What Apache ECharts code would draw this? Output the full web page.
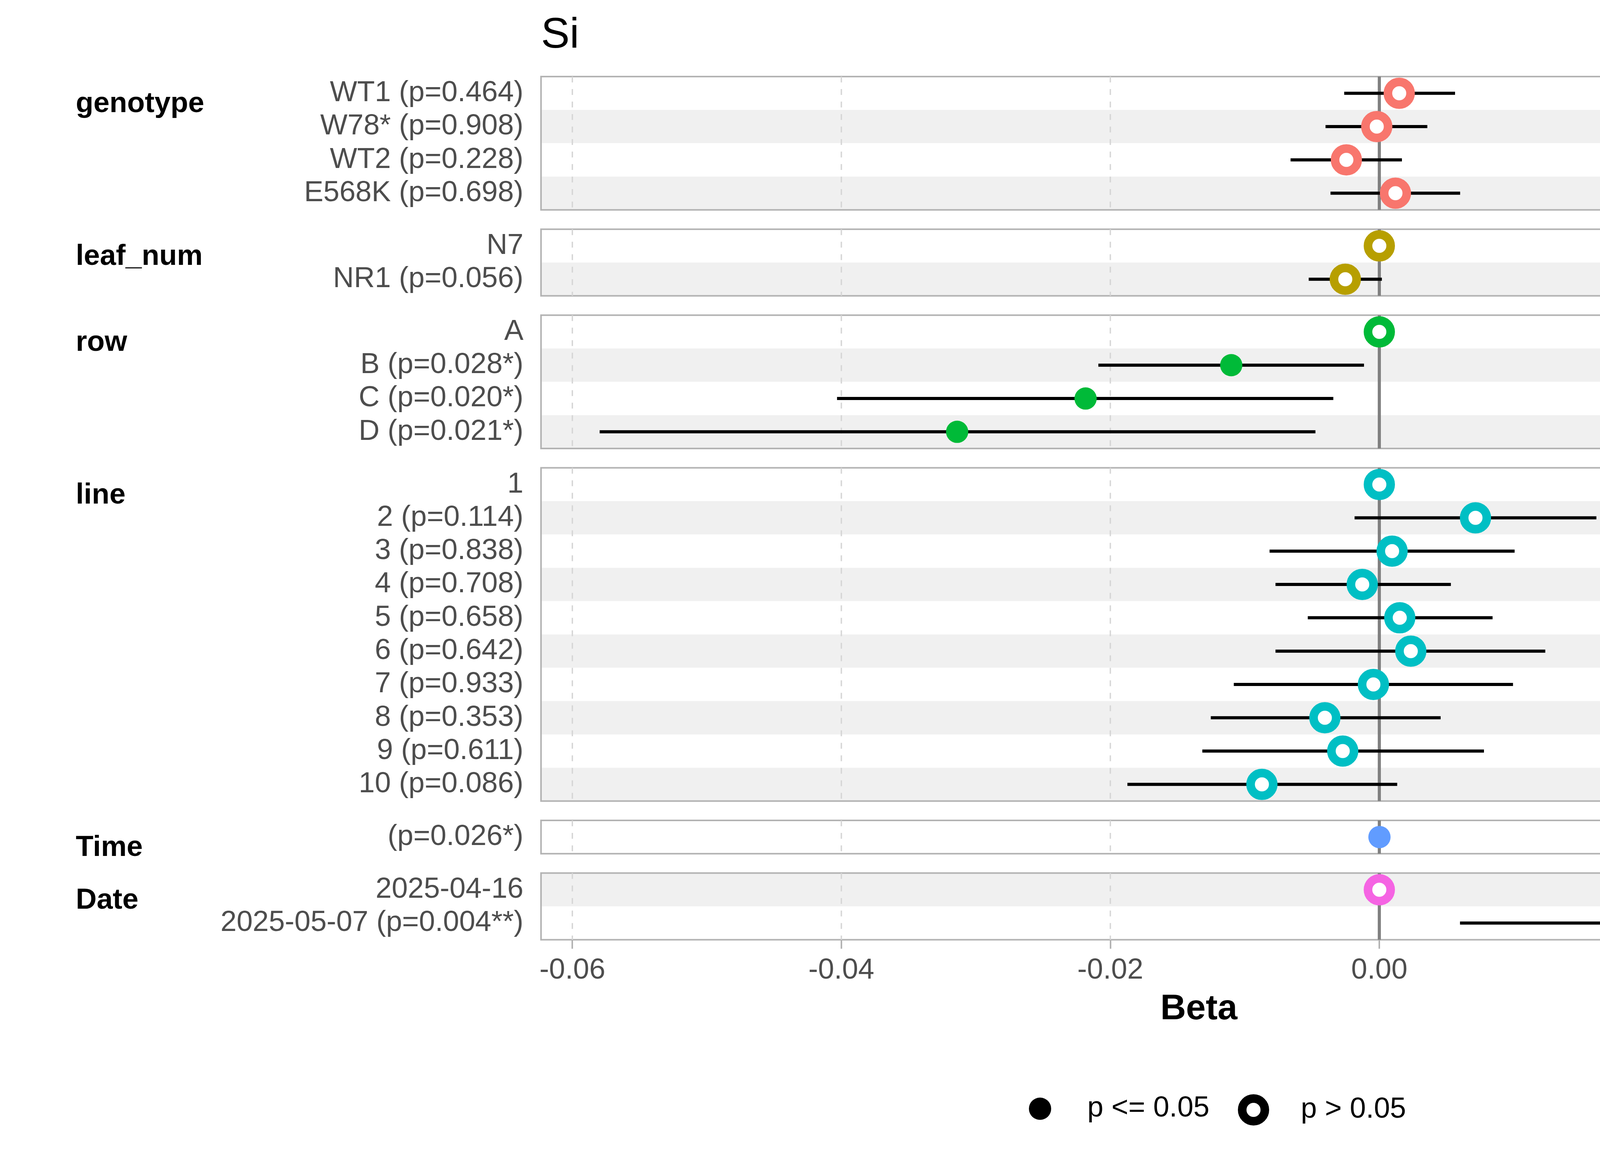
<!DOCTYPE html>
<html>
<head>
<meta charset="utf-8">
<script src="https://cdn.jsdelivr.net/npm/echarts@6/dist/echarts.min.js"></script>
<style>html,body{margin:0;padding:0;background:#fff}#c{width:4800px;height:3000px}</style>
</head>
<body>
<div id="c"></div>
<script>
// ---------------- data ----------------
const panelNames = ['genotype', 'leaf_num', 'row', 'line', 'Time', 'Date'];
const panelColors = ['#F8766D', '#B79F00', '#00BA38', '#00BFC4', '#619CFF', '#F564E3'];

const genotypeLabels = ['WT1 (p=0.464)', 'W78* (p=0.908)', 'WT2 (p=0.228)', 'E568K (p=0.698)'];
const genotypeBeta = [0.00148, -0.00019, -0.00245, 0.0012];
const genotypeLow = [-0.00261, -0.0040, -0.0066, -0.00363];
const genotypeHigh = [0.00563, 0.00357, 0.00168, 0.00601];
const genotypeP = [0.464, 0.908, 0.228, 0.698];

const leafLabels = ['N7', 'NR1 (p=0.056)'];
const leafBeta = [0, -0.00253];
const leafLow = [null, -0.00525];
const leafHigh = [null, 0.00019];
const leafP = [null, 0.056];

const rowLabels = ['A', 'B (p=0.028*)', 'C (p=0.020*)', 'D (p=0.021*)'];
const rowBeta = [0, -0.01101, -0.02184, -0.03139];
const rowLow = [null, -0.02089, -0.04032, -0.05797];
const rowHigh = [null, -0.00114, -0.00342, -0.00475];
const rowP = [null, 0.028, 0.020, 0.021];

const lineLabels = ['1', '2 (p=0.114)', '3 (p=0.838)', '4 (p=0.708)', '5 (p=0.658)', '6 (p=0.642)',
  '7 (p=0.933)', '8 (p=0.353)', '9 (p=0.611)', '10 (p=0.086)'];
const lineBeta = [0, 0.00715, 0.00095, -0.00127, 0.00152, 0.00234, -0.00044, -0.00405, -0.00272, -0.00873];
const lineLow = [null, -0.00184, -0.00816, -0.00772, -0.00532, -0.00772, -0.01082, -0.01253, -0.01316, -0.01873];
const lineHigh = [null, 0.01614, 0.01006, 0.00532, 0.00842, 0.01234, 0.00994, 0.00456, 0.00778, 0.00133];
const lineP = [null, 0.114, 0.838, 0.708, 0.658, 0.642, 0.933, 0.353, 0.611, 0.086];

const timeLabels = ['(p=0.026*)'];
const timeBeta = [0.00001];
const timeLow = [0.000005];
const timeHigh = [0.000015];
const timeP = [0.026];

const dateLabels = ['2025-04-16', '2025-05-07 (p=0.004**)'];
const dateBeta = [0, 0.01854];
const dateLow = [null, 0.0060];
const dateHigh = [null, 0.0311];
const dateP = [null, 0.004];

const xTicks = [-0.06, -0.04, -0.02, 0.00, 0.02];
const xMin = -0.06233;
const xMax = 0.03549;
const legendNames = ['p <= 0.05', 'p > 0.05'];

// ---------------- layout / style ----------------
const FONT = '"Liberation Sans", Arial, Helvetica, sans-serif';
const UNIT = 85.3, GAP = 49.5, TOP0 = 196, LEFT = 1385, RIGHT_EDGE = 4753;
const STRIPE = '#f0f0f0';

const panels = [
  {labels: genotypeLabels, beta: genotypeBeta, low: genotypeLow, high: genotypeHigh, p: genotypeP},
  {labels: leafLabels, beta: leafBeta, low: leafLow, high: leafHigh, p: leafP},
  {labels: rowLabels, beta: rowBeta, low: rowLow, high: rowHigh, p: rowP},
  {labels: lineLabels, beta: lineBeta, low: lineLow, high: lineHigh, p: lineP},
  {labels: timeLabels, beta: timeBeta, low: timeLow, high: timeHigh, p: timeP},
  {labels: dateLabels, beta: dateBeta, low: dateLow, high: dateHigh, p: dateP}
];

const grids = [], xAxes = [], yAxes = [], series = [];
const titles = [{
  text: 'Si', left: LEFT, top: 37, padding: 0,
  textStyle: {fontSize: 110, fontWeight: 'normal', color: '#000', fontFamily: FONT}
}];

function renderVLine(params, api) {
  const cs = params.coordSys;
  const x = api.coord([api.value(0), 0])[0];
  const isZero = api.value(1) === 1;
  return {
    type: 'line', silent: true,
    shape: {x1: x, y1: cs.y, x2: x, y2: cs.y + cs.height},
    style: isZero ? {stroke: '#808080', lineWidth: 8}
                  : {stroke: '#d6d6d6', lineWidth: 3.5, lineDash: [15, 17]}
  };
}
function renderBar(params, api) {
  const a = api.coord([api.value(0), api.value(2)]);
  const b = api.coord([api.value(1), api.value(2)]);
  return {type: 'line', silent: true, shape: {x1: a[0], y1: a[1], x2: b[0], y2: b[1]},
    style: {stroke: '#000', lineWidth: 8}};
}

let curTop = TOP0, globalIdx = 1;
const lastPanel = panels.length - 1;
panels.forEach((pn, i) => {
  const n = pn.labels.length;
  const h = n * UNIT;
  grids.push({
    left: LEFT, width: RIGHT_EDGE - LEFT, top: curTop, height: h,
    show: true, borderColor: '#b3b3b3', borderWidth: 4, backgroundColor: 'rgba(0,0,0,0)',
    z: 1, containLabel: false
  });
  const isLast = i === lastPanel;
  xAxes.push({
    type: 'value', gridIndex: i, min: xMin, max: xMax,
    axisLine: {show: false},
    splitLine: {show: false},
    axisTick: {show: isLast, customValues: xTicks, length: 23, lineStyle: {color: '#b3b3b3', width: 4}},
    axisLabel: {
      show: isLast, customValues: xTicks, margin: 42, fontSize: 74, color: '#4d4d4d', fontFamily: FONT,
      formatter: v => v.toFixed(2)
    },
    name: isLast ? 'Beta' : '', nameLocation: 'middle', nameGap: 133,
    nameTextStyle: {fontSize: 91, fontWeight: 'bold', color: '#000', fontFamily: FONT}
  });
  const stripeColors = (globalIdx % 2 === 1) ? ['#ffffff', STRIPE] : [STRIPE, '#ffffff'];
  yAxes.push({
    type: 'category', gridIndex: i, inverse: true, data: pn.labels, z: 0,
    axisLine: {show: false}, axisTick: {show: false}, splitLine: {show: false},
    axisLabel: {interval: 0, margin: 45, fontSize: 74, color: '#4d4d4d', fontFamily: FONT},
    splitArea: {show: true, interval: 0, areaStyle: {color: stripeColors}}
  });
  titles.push({
    text: panelNames[i], left: 194, top: curTop + 34, padding: 0,
    textStyle: {fontSize: 74, fontWeight: 'bold', color: '#000', fontFamily: FONT}
  });

  // vertical grid lines and zero line
  series.push({
    type: 'custom', xAxisIndex: i, yAxisIndex: i, z: 1, silent: true, clip: false,
    encode: {x: 0, y: 2},
    data: xTicks.map(v => [v, v === 0 ? 1 : 0, 0]),
    renderItem: renderVLine
  });

  // error bars
  const ciData = [];
  pn.labels.forEach((lab, k) => {
    if (pn.low[k] != null && pn.high[k] != null) ciData.push([pn.low[k], pn.high[k], k]);
  });
  series.push({
    type: 'custom', xAxisIndex: i, yAxisIndex: i, z: 2, silent: true,
    encode: {x: [0, 1], y: 2},
    data: ciData,
    renderItem: renderBar
  });

  const sigData = [], nsData = [];
  pn.labels.forEach((lab, k) => {
    if (pn.p[k] != null && pn.p[k] <= 0.05) sigData.push([pn.beta[k], k]);
    else nsData.push([pn.beta[k], k]);
  });
  series.push({
    name: legendNames[1], type: 'scatter', xAxisIndex: i, yAxisIndex: i, z: 3, silent: true,
    symbol: 'circle', symbolSize: 58, data: nsData,
    itemStyle: {color: '#ffffff', borderColor: panelColors[i], borderWidth: 22, opacity: 1},
    emphasis: {disabled: true}
  });
  series.push({
    name: legendNames[0], type: 'scatter', xAxisIndex: i, yAxisIndex: i, z: 3, silent: true,
    symbol: 'circle', symbolSize: 57, data: sigData,
    itemStyle: {color: panelColors[i], borderWidth: 0, opacity: 1},
    emphasis: {disabled: true}
  });

  curTop += h + GAP;
  globalIdx += n;
});

const legendText = {fontSize: 74, color: '#000', fontFamily: FONT};
const legends = [
  {
    left: 2634, top: 2801, padding: 0, itemWidth: 232, itemHeight: 57, selectedMode: false,
    textStyle: legendText,
    data: [{name: legendNames[0], icon: 'circle', itemStyle: {color: '#000', borderWidth: 0}}]
  },
  {
    left: 3169, top: 2801, padding: 0, itemWidth: 232, itemHeight: 58, selectedMode: false,
    textStyle: legendText,
    data: [{name: legendNames[1], icon: 'circle', itemStyle: {color: '#fff', borderColor: '#000', borderWidth: 22}}]
  }
];

const chart = echarts.init(document.getElementById('c'), null, {renderer: 'canvas', width: 4800, height: 3000});
chart.setOption({
  backgroundColor: '#ffffff',
  animation: false,
  title: titles,
  legend: legends,
  grid: grids,
  xAxis: xAxes,
  yAxis: yAxes,
  series: series
});
</script>
</body>
</html>
